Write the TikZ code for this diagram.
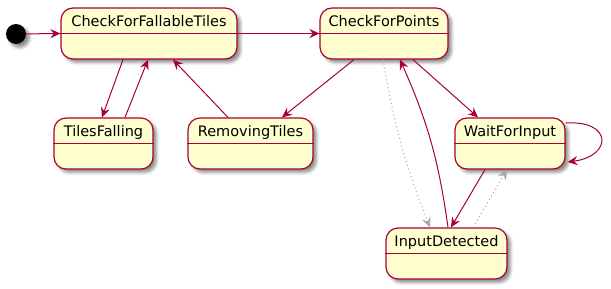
\documentclass[tikz,border=0pt]{standalone}
\usepackage{fontspec}
\setmainfont{DejaVu Sans}
\usepackage{xcolor}
\definecolor{umlred}{HTML}{A80036}
\definecolor{umlfill}{HTML}{FEFECE}
\definecolor{umlgrey}{HTML}{A8A8A8}
\usepackage{tikz}
\usetikzlibrary{arrows.meta,shadows.blur}

\begin{document}
\begin{tikzpicture}[x=1bp,y=-1bp,>={Stealth[length=10bp,width=9bp,inset=3.5bp]},
  umlshadow/.style={blur shadow={shadow xshift=3.5bp,shadow yshift=-3.5bp,shadow blur radius=3bp,shadow opacity=45}},
  state/.style={draw=umlred,line width=1.2bp,fill=umlfill,rounded corners=12bp,inner xsep=0pt,inner ysep=4.5bp,
    text height=14bp,text depth=28bp,font=\fontsize{14.5bp}{16bp}\selectfont,umlshadow},
  trans/.style={->,umlred,line width=1bp},
  hidden/.style={->,umlgrey,line width=1bp,dash pattern=on 1bp off 3bp}]
\useasboundingbox (0,0) rectangle (611,288);
\node[circle,fill=black,minimum size=20bp,inner sep=0pt,umlshadow] (S) at (16,34) {};
\node[state,minimum width=176bp] (A) at (149,33.5) {CheckForFallableTiles};
\node[state,minimum width=128bp] (B) at (384,33.5) {CheckForPoints};
\node[state,minimum width=99bp] (C) at (103.5,143.5) {TilesFalling};
\node[state,minimum width=125bp] (D) at (250.5,143.5) {RemovingTiles};
\node[state,minimum width=110bp] (E) at (510,143.5) {WaitForInput};
\node[state,minimum width=121bp] (F) at (446.5,253.5) {InputDetected};
\foreach \n in {A,B,C,D,E,F}
  \draw[umlred,line width=1.2bp] ([yshift=-26bp]\n.north west) -- ([yshift=-26bp]\n.north east);
\draw[trans] (S) -- (A.west);
\draw[trans] (A.east) -- (B.west);
\draw[trans] ([xshift=-26bp]A.south) -- ([xshift=-1.5bp]C.north);
\draw[trans] ([xshift=21.5bp]C.north) -- ([xshift=-1bp]A.south);
\draw[trans] ([xshift=-22.5bp]D.north) -- ([xshift=24bp]A.south);
\draw[trans] ([xshift=-30bp]B.south) -- ([xshift=31.5bp]D.north);
\draw[trans] ([xshift=29bp]B.south) -- ([xshift=-32bp]E.north);
\draw[hidden] ([xshift=-1bp]B.south) to[bend right=6] ([xshift=-16.5bp]F.north);
\draw[trans] ([xshift=1.5bp]F.north) to[bend right=8] ([xshift=16bp]B.south);
\draw[trans] ([xshift=-25bp]E.south) -- ([xshift=4.5bp]F.north);
\draw[hidden] ([xshift=26.5bp]F.north) -- ([xshift=-3bp]E.south);
\draw[trans] ([yshift=20.5bp]E.east) .. controls +(47,-3) and +(45,-6) .. ([xshift=2bp,yshift=-18.5bp]E.east);
\end{tikzpicture}
\end{document}
